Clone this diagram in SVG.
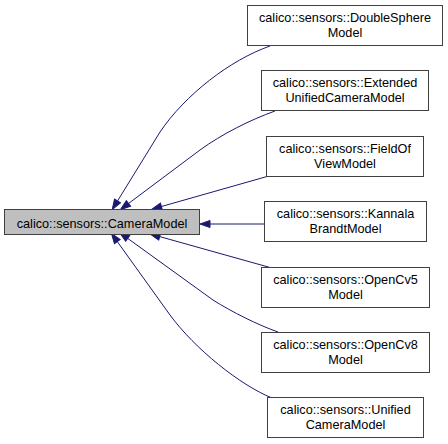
<svg xmlns="http://www.w3.org/2000/svg" width="448" height="444" viewBox="0 0 448 444">
<style>
  .node rect { fill: #ffffff; stroke: #404040; stroke-width: 1; }
  .node.main rect { fill: #bfbfbf; }
  .node text { font-family: "Liberation Sans", Arial, Helvetica, sans-serif; font-size: 12.7px; fill: #000000; text-anchor: middle; }
  .edge { fill: none; stroke: #191970; stroke-width: 1; marker-end: url(#arrow); }
</style>
<defs>
  <marker id="arrow" markerUnits="userSpaceOnUse" viewBox="-1 -1 12 9" refX="0" refY="3.5" markerWidth="12" markerHeight="9" orient="auto">
    <path d="M0,0 L10,3.5 L0,7 Z" fill="#191970" stroke="#191970" stroke-width="1"/>
  </marker>
</defs>
<rect width="448" height="444" fill="#ffffff"/>
<g id="connectors">
  <path class="edge" d="M270,46 C230,60 185,95 160,132 L117.5,201"/>
  <path class="edge" d="M275,111 C250,120 222,134 200,150 L128.5,203.5"/>
  <path class="edge" d="M267,176.5 L161.4,206.5"/>
  <path class="edge" d="M264,224 L210,224"/>
  <path class="edge" d="M270,267.5 L159.7,236.6"/>
  <path class="edge" d="M278,332 C258,325 232,312 213,300 L127.7,238.4"/>
  <path class="edge" d="M272,398 C240,385 195,349 170,315 L117.3,241.6"/>
</g>
<g id="CameraModel" class="node main">
  <rect x="4.5" y="209.5" width="195" height="25"/>
  <text x="102" y="227.5">calico::sensors::CameraModel</text>
</g>
<g id="DoubleSphereModel" class="node">
  <rect x="247.5" y="5.5" width="195" height="40"/>
  <text x="345" y="21.5">calico::sensors::DoubleSphere</text>
  <text x="345" y="36.5">Model</text>
</g>
<g id="ExtendedUnifiedCameraModel" class="node">
  <rect x="261.5" y="70.5" width="167" height="40"/>
  <text x="345" y="86.5">calico::sensors::Extended</text>
  <text x="345" y="101.5">UnifiedCameraModel</text>
</g>
<g id="FieldOfViewModel" class="node">
  <rect x="266.5" y="136.5" width="157" height="40"/>
  <text x="345" y="152.5">calico::sensors::FieldOf</text>
  <text x="345" y="167.5">ViewModel</text>
</g>
<g id="KannalaBrandtModel" class="node">
  <rect x="264.5" y="201.5" width="162" height="40"/>
  <text x="345.5" y="217.5">calico::sensors::Kannala</text>
  <text x="345.5" y="232.5">BrandtModel</text>
</g>
<g id="OpenCv5Model" class="node">
  <rect x="261.5" y="267.5" width="168" height="40"/>
  <text x="345.5" y="283.5">calico::sensors::OpenCv5</text>
  <text x="345.5" y="298.5">Model</text>
</g>
<g id="OpenCv8Model" class="node">
  <rect x="261.5" y="332.5" width="168" height="40"/>
  <text x="345.5" y="348.5">calico::sensors::OpenCv8</text>
  <text x="345.5" y="363.5">Model</text>
</g>
<g id="UnifiedCameraModel" class="node">
  <rect x="267.5" y="397.5" width="156" height="40"/>
  <text x="345.5" y="413.5">calico::sensors::Unified</text>
  <text x="345.5" y="428.5">CameraModel</text>
</g>
</svg>
